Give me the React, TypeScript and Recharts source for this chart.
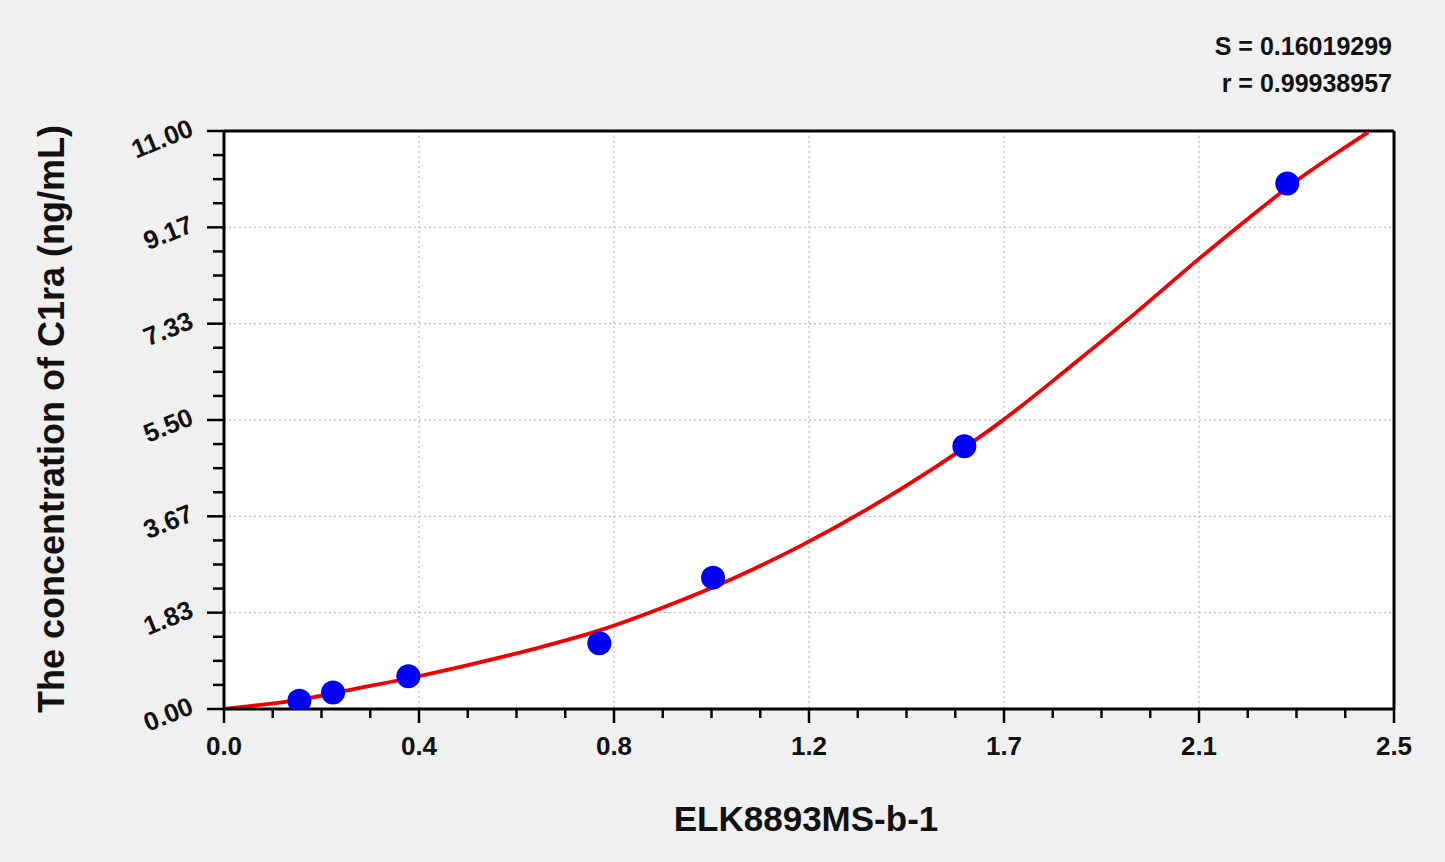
import React from "react";
import {
  ComposedChart,
  Line,
  Scatter,
  XAxis,
  YAxis,
  CartesianGrid,
  ReferenceLine,
} from "recharts";

// standards: OD reading vs concentration
const standardOd = [0.161, 0.233, 0.394, 0.802, 1.045, 1.582, 2.272];
const standardConc = [0.156, 0.3125, 0.625, 1.25, 2.5, 5, 10];

// fitted curve
const curveOd = [
  0, 0.05, 0.163, 0.277, 0.398, 0.519, 0.661, 0.804, 0.946, 1.089, 1.231,
  1.374, 1.516, 1.659, 1.801, 1.943, 2.085, 2.192, 2.299, 2.406, 2.445,
];
const curveConc = [
  0, 0.05, 0.18, 0.38, 0.59, 0.83, 1.14, 1.5, 1.96, 2.49, 3.1, 3.8, 4.58,
  5.46, 6.46, 7.5, 8.58, 9.36, 10.1, 10.75, 10.98,
];

const xMax = 2.5;
const yMax = 11;
const xTickLabels = ["0.0", "0.4", "0.8", "1.2", "1.7", "2.1", "2.5"];
const yTickLabels = ["0.00", "1.83", "3.67", "5.50", "7.33", "9.17", "11.00"];
const minorPerMajor = 4;

const stats = ["S = 0.16019299", "r = 0.99938957"];
const xTitle = "ELK8893MS-b-1";
const yTitle = "The concentration of C1ra (ng/mL)";

const FONT = '"Liberation Sans", Arial, sans-serif';

const standards = standardOd.map((x, i) => ({ x, y: standardConc[i] }));
const curve = curveOd.map((x, i) => ({ x, y: curveConc[i] }));

const nSteps = (xTickLabels.length - 1) * minorPerMajor;
const xTicks = Array.from({ length: nSteps + 1 }, (_, i) => (i * xMax) / nSteps);
const yTicks = Array.from({ length: nSteps + 1 }, (_, i) => (i * yMax) / nSteps);
const xMajor = xTicks.filter((_, i) => i % minorPerMajor === 0);
const yMajor = yTicks.filter((_, i) => i % minorPerMajor === 0);

function XTick(props: any) {
  const { x, y, payload } = props;
  const idx = Math.round((payload.value / xMax) * nSteps);
  const major = idx % minorPerMajor === 0;
  return (
    <g>
      <line x1={x} y1={y} x2={x} y2={y + (major ? 14 : 9)} stroke="#000" strokeWidth={2.5} />
      {major && (
        <text
          x={x}
          y={y + 46}
          textAnchor="middle"
          fontFamily={FONT}
          fontWeight="bold"
          fontSize={26}
          fill="#111"
        >
          {xTickLabels[idx / minorPerMajor]}
        </text>
      )}
    </g>
  );
}

function YTick(props: any) {
  const { x, y, payload } = props;
  const idx = Math.round((payload.value / yMax) * nSteps);
  const major = idx % minorPerMajor === 0;
  const tx = x - 29;
  const ty = y + 4;
  return (
    <g>
      <line x1={x - (major ? 17 : 11)} y1={y} x2={x} y2={y} stroke="#000" strokeWidth={2.5} />
      {major && (
        <text
          x={tx}
          y={ty}
          textAnchor="end"
          transform={`rotate(-22, ${tx}, ${ty})`}
          fontFamily={FONT}
          fontWeight="bold"
          fontSize={26}
          fill="#111"
        >
          {yTickLabels[idx / minorPerMajor]}
        </text>
      )}
    </g>
  );
}

export default function App() {
  return (
    <div
      style={{
        position: "absolute",
        left: 0,
        top: 0,
        width: 1445,
        height: 862,
        background: "#f0f0f0",
        overflow: "hidden",
      }}
    >
      <ComposedChart
        width={1445}
        height={862}
        margin={{ top: 131, right: 51, bottom: 93, left: 0 }}
      >
        <CartesianGrid
          fill="#ffffff"
          stroke="#b0b0b0"
          strokeDasharray="2 3"
          verticalValues={xMajor}
          horizontalValues={yMajor}
        />
        <XAxis
          type="number"
          dataKey="x"
          domain={[0, xMax]}
          ticks={xTicks}
          interval={0}
          tick={<XTick />}
          tickLine={false}
          tickSize={0}
          tickMargin={0}
          axisLine={{ stroke: "#000", strokeWidth: 3 }}
          height={60}
          allowDataOverflow
        />
        <YAxis
          type="number"
          dataKey="y"
          domain={[0, yMax]}
          ticks={yTicks}
          interval={0}
          tick={<YTick />}
          tickLine={false}
          tickSize={0}
          tickMargin={0}
          axisLine={{ stroke: "#000", strokeWidth: 3 }}
          width={224}
          allowDataOverflow
        />
        <ReferenceLine y={yMax} stroke="#000" strokeWidth={3} />
        <ReferenceLine x={xMax} stroke="#000" strokeWidth={3} />
        <Scatter
          data={standards}
          isAnimationActive={false}
          shape={(p: any) => <circle cx={p.cx} cy={p.cy} r={12} fill="#0000f2" />}
        />
        <Line
          data={curve}
          dataKey="y"
          type="monotone"
          stroke="#f20000"
          strokeWidth={3.8}
          dot={false}
          activeDot={false}
          isAnimationActive={false}
        />
      </ComposedChart>
      <svg
        width={1445}
        height={862}
        style={{ position: "absolute", left: 0, top: 0, pointerEvents: "none" }}
      >
        {stats.map((s, i) => (
          <text
            key={s}
            x={1392}
            y={55 + i * 37}
            textAnchor="end"
            fontFamily={FONT}
            fontWeight="bold"
            fontSize={25}
            fill="#111"
          >
            {s}
          </text>
        ))}
        <text
          x={806}
          y={831}
          textAnchor="middle"
          fontFamily={FONT}
          fontWeight="bold"
          fontSize={35}
          fill="#111"
        >
          {xTitle}
        </text>
        <text
          x={64}
          y={419}
          textAnchor="middle"
          transform="rotate(-90, 64, 419)"
          fontFamily={FONT}
          fontWeight="bold"
          fontSize={36}
          fill="#111"
        >
          {yTitle}
        </text>
      </svg>
    </div>
  );
}
